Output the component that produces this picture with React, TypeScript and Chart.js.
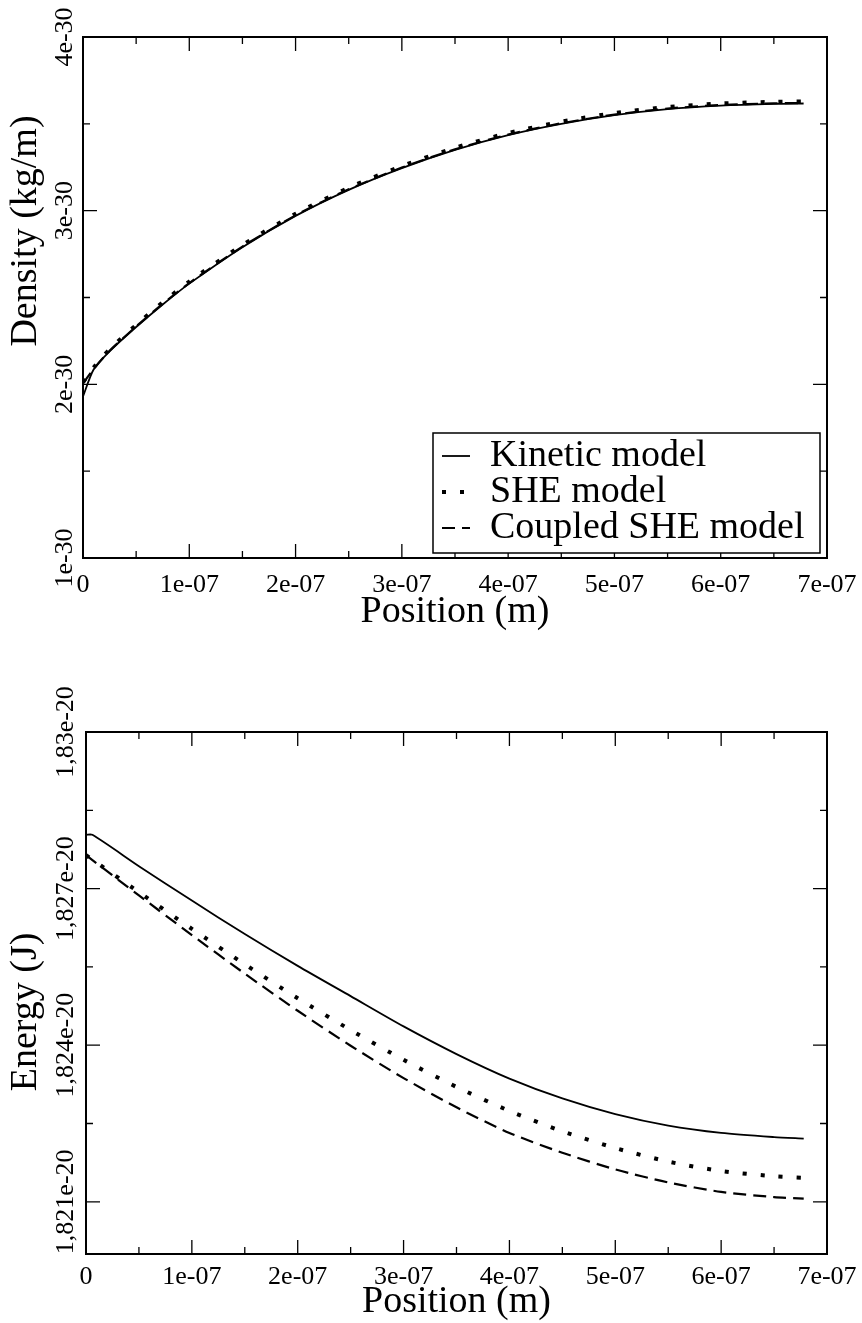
import React, { useEffect, useRef } from 'react';
import { Chart, registerables } from 'chart.js';

Chart.register(...registerables);

const FONT = '"Liberation Serif", "Times New Roman", Times, serif';

// ---------- shared axis ----------
const xTickValues = [0, 1e-7, 2e-7, 3e-7, 4e-7, 5e-7, 6e-7, 7e-7];
const xTickLabels = ['0', '1e-07', '2e-07', '3e-07', '4e-07', '5e-07', '6e-07', '7e-07'];

const seriesLabels = ['Kinetic model', 'SHE model', 'Coupled SHE model'];

// ---------- density (top) ----------
const densityTickValues = [1e-30, 2e-30, 3e-30, 4e-30];
const densityTickLabels = ['1e-30', '2e-30', '3e-30', '4e-30'];

const densityX = [0, 1.0e-8, 2.5e-8, 5.0e-8, 7.5e-8, 1.0e-7, 1.5e-7, 2.0e-7, 2.5e-7, 3.0e-7, 3.5e-7, 4.0e-7, 4.5e-7, 5.0e-7, 5.5e-7, 6.0e-7, 6.5e-7, 6.78e-7];
const densityKinetic = [1.93e-30, 2.085e-30, 2.19e-30, 2.33e-30, 2.46e-30, 2.58e-30, 2.79e-30, 2.97e-30, 3.12e-30, 3.245e-30, 3.35e-30, 3.435e-30, 3.5e-30, 3.55e-30, 3.585e-30, 3.605e-30, 3.615e-30, 3.617e-30];
const densitySHE = [2.012e-30, 2.097e-30, 2.202e-30, 2.342e-30, 2.472e-30, 2.592e-30, 2.802e-30, 2.982e-30, 3.132e-30, 3.257e-30, 3.362e-30, 3.447e-30, 3.512e-30, 3.562e-30, 3.597e-30, 3.617e-30, 3.627e-30, 3.629e-30];
const densityCoupled = [2.005e-30, 2.088e-30, 2.193e-30, 2.333e-30, 2.463e-30, 2.583e-30, 2.793e-30, 2.973e-30, 3.123e-30, 3.248e-30, 3.353e-30, 3.438e-30, 3.503e-30, 3.553e-30, 3.588e-30, 3.608e-30, 3.618e-30, 3.62e-30];

// ---------- energy (bottom) ----------
const energyTickValues = [1.821e-20, 1.824e-20, 1.827e-20, 1.83e-20];
const energyTickLabels = ['1,821e-20', '1,824e-20', '1,827e-20', '1,83e-20'];

const energyKineticX = [0, 6e-9, 5e-8, 1e-7, 1.5e-7, 2e-7, 2.5e-7, 3e-7, 3.5e-7, 4e-7, 4.5e-7, 5e-7, 5.5e-7, 6e-7, 6.5e-7, 6.78e-7];
const energyKinetic = [1.82803e-20, 1.82803e-20, 1.82743e-20, 1.82677e-20, 1.82613e-20, 1.82552e-20, 1.82494e-20, 1.82436e-20, 1.82383e-20, 1.82336e-20, 1.82298e-20, 1.82268e-20, 1.82246e-20, 1.82232e-20, 1.82224e-20, 1.82221e-20];
const energyX = [0, 5e-8, 1e-7, 1.5e-7, 2e-7, 2.5e-7, 3e-7, 3.5e-7, 4e-7, 4.5e-7, 5e-7, 5.5e-7, 6e-7, 6.5e-7, 6.78e-7];
const energySHE = [1.82764e-20, 1.82693e-20, 1.82623e-20, 1.82555e-20, 1.8249e-20, 1.82429e-20, 1.82372e-20, 1.8232e-20, 1.82274e-20, 1.82235e-20, 1.82203e-20, 1.82177e-20, 1.82159e-20, 1.82149e-20, 1.82146e-20];
const energyCoupled = [1.82764e-20, 1.82687e-20, 1.82611e-20, 1.82537e-20, 1.82466e-20, 1.82399e-20, 1.82337e-20, 1.82281e-20, 1.82232e-20, 1.82194e-20, 1.82162e-20, 1.82137e-20, 1.82119e-20, 1.82109e-20, 1.82106e-20];

// ---------- styles ----------
const lineStyles = [
  { borderWidth: 1.8, borderDash: [] as number[] },
  { borderWidth: 4, borderDash: [4, 14] },
  { borderWidth: 2.2, borderDash: [13, 7] },
];

const toPoints = (xs: number[], ys: number[]) => xs.map((x, i) => ({ x, y: ys[i] }));

const makeDataset = (i: number, xs: number[], ys: number[]) => ({
  label: seriesLabels[i],
  data: toPoints(xs, ys),
  borderColor: '#000',
  backgroundColor: '#000',
  pointRadius: 0,
  pointHoverRadius: 0,
  fill: false,
  borderCapStyle: 'butt' as const,
  cubicInterpolationMode: 'default' as const,
  tension: 0.25,
  ...lineStyles[i],
});

const midpoints = (v: number[]) => v.slice(1).map((b, i) => (v[i] + b) / 2);

function measureWidest(labels: string[], font: string) {
  const ctx = document.createElement('canvas').getContext('2d')!;
  ctx.font = font;
  return Math.max(...labels.map((l) => ctx.measureText(l).width));
}

const frameTicksPlugin = {
  id: 'frameTicks',
  afterDraw(chart: any) {
    const { ctx, chartArea: a } = chart;
    const xs = chart.scales.x;
    const ys = chart.scales.y;
    ctx.save();
    ctx.strokeStyle = '#000';
    ctx.lineWidth = 1.3;
    ctx.beginPath();
    xs.ticks.forEach((t: any) => {
      const p = xs.getPixelForValue(t.value);
      const len = t.label ? 14 : 7;
      ctx.moveTo(p, a.bottom);
      ctx.lineTo(p, a.bottom - len);
      ctx.moveTo(p, a.top);
      ctx.lineTo(p, a.top + len);
    });
    ys.ticks.forEach((t: any) => {
      const p = ys.getPixelForValue(t.value);
      const len = t.label ? 14 : 7;
      ctx.moveTo(a.left, p);
      ctx.lineTo(a.left + len, p);
      ctx.moveTo(a.right, p);
      ctx.lineTo(a.right - len, p);
    });
    ctx.stroke();
    ctx.lineWidth = 2;
    ctx.strokeRect(a.left, a.top, a.right - a.left, a.bottom - a.top);
    ctx.restore();
  },
};

const boxLegendPlugin = {
  id: 'boxLegend',
  afterDraw(chart: any, _args: any, opts: any) {
    if (!opts || !opts.display) return;
    const { ctx, chartArea: a } = chart;
    const x0 = a.right - opts.rightInset - opts.width;
    const y0 = a.bottom - opts.bottomInset - opts.height;
    ctx.save();
    ctx.fillStyle = '#fff';
    ctx.fillRect(x0, y0, opts.width, opts.height);
    ctx.strokeStyle = '#000';
    ctx.lineWidth = 1.5;
    ctx.strokeRect(x0, y0, opts.width, opts.height);
    chart.data.datasets.forEach((ds: any, i: number) => {
      const cy = y0 + opts.firstRow + i * opts.rowGap;
      ctx.setLineDash(ds.borderDash || []);
      ctx.lineWidth = ds.borderWidth;
      ctx.lineCap = 'butt';
      ctx.strokeStyle = '#000';
      ctx.beginPath();
      ctx.moveTo(x0 + opts.sampleStart, cy);
      ctx.lineTo(x0 + opts.sampleEnd, cy);
      ctx.stroke();
      ctx.setLineDash([]);
      ctx.fillStyle = '#000';
      ctx.font = `${opts.fontSize}px ${FONT}`;
      ctx.textBaseline = 'middle';
      ctx.textAlign = 'left';
      ctx.fillText(ds.label, x0 + opts.textStart, cy);
    });
    ctx.restore();
  },
};

type Spec = {
  datasets: any[];
  yMin: number;
  yMax: number;
  yTickValues: number[];
  yTickLabels: string[];
  yTitle: string;
  canvasHeight: number;
  area: { left: number; top: number; right: number; bottom: number };
  xLabelOffset: number;
  xTitleY: number;
  yLabelCenterX: number;
  yTitleX: number;
  legend: boolean;
};

const W = 862;
const TICK_SIZE = 26;
const TITLE_SIZE = 38;

function labelFor(values: number[], labels: string[], v: number) {
  const span = values[values.length - 1] - values[0];
  const i = values.findIndex((m) => Math.abs(m - v) < span * 1e-6);
  return i >= 0 ? labels[i] : '';
}

function createChart(canvas: HTMLCanvasElement, s: Spec) {
  const H = s.canvasHeight;
  const { left, top, right, bottom } = s.area;
  const tickFont = { family: FONT, size: TICK_SIZE, lineHeight: 1 };
  const titleFont = { family: FONT, size: TITLE_SIZE, lineHeight: 1 };
  const widest = measureWidest(s.yTickLabels, `${TICK_SIZE}px ${FONT}`);
  const yTickPad = left - s.yLabelCenterX - widest / 2;
  const xAll = [...xTickValues, ...midpoints(xTickValues)].sort((a, b) => a - b);
  const yAll = [...s.yTickValues, ...midpoints(s.yTickValues)].sort((a, b) => a - b);

  return new Chart(canvas, {
    type: 'line',
    data: { datasets: s.datasets },
    options: {
      responsive: false,
      maintainAspectRatio: false,
      animation: false,
      devicePixelRatio: 1,
      events: [],
      layout: { padding: { left: 0, top, right: W - right, bottom: 0 } },
      plugins: {
        legend: { display: false },
        tooltip: { enabled: false },
        boxLegend: {
          display: s.legend,
          width: 387,
          height: 120,
          rightInset: 7,
          bottomInset: 5,
          firstRow: 23,
          rowGap: 36,
          sampleStart: 9,
          sampleEnd: 37,
          textStart: 57,
          fontSize: 38,
        },
      } as any,
      scales: {
        x: {
          type: 'linear',
          min: 0,
          max: 7e-7,
          grid: { display: false, drawTicks: false, tickLength: 0 },
          border: { display: false },
          afterBuildTicks: (sc: any) => {
            sc.ticks = xAll.map((v) => ({ value: v }));
          },
          afterFit: (sc: any) => {
            sc.height = H - bottom;
            sc.paddingLeft = 0;
            sc.paddingRight = 0;
          },
          ticks: {
            autoSkip: false,
            maxRotation: 0,
            minRotation: 0,
            padding: s.xLabelOffset - TICK_SIZE / 2,
            font: tickFont,
            color: '#000',
            callback: (v: any) => labelFor(xTickValues, xTickLabels, Number(v)),
          },
          title: {
            display: true,
            text: 'Position (m)',
            font: titleFont,
            color: '#000',
            padding: { top: 0, bottom: H - TITLE_SIZE / 2 - s.xTitleY },
          },
        },
        y: {
          type: 'linear',
          min: s.yMin,
          max: s.yMax,
          grid: { display: false, drawTicks: false, tickLength: 0 },
          border: { display: false },
          afterBuildTicks: (sc: any) => {
            sc.ticks = yAll.map((v) => ({ value: v }));
          },
          afterFit: (sc: any) => {
            sc.width = left;
            sc.paddingTop = 0;
            sc.paddingBottom = 0;
          },
          ticks: {
            autoSkip: false,
            minRotation: 90,
            maxRotation: 90,
            crossAlign: 'center',
            padding: yTickPad,
            font: tickFont,
            color: '#000',
            callback: (v: any) => labelFor(s.yTickValues, s.yTickLabels, Number(v)),
          },
          title: {
            display: true,
            text: s.yTitle,
            font: titleFont,
            color: '#000',
            padding: { top: s.yTitleX - TITLE_SIZE / 2, bottom: 0 },
          },
        },
      } as any,
    },
    plugins: [frameTicksPlugin, boxLegendPlugin],
  });
}

export default function App() {
  const topRef = useRef<HTMLCanvasElement>(null);
  const botRef = useRef<HTMLCanvasElement>(null);

  useEffect(() => {
    const top = createChart(topRef.current!, {
      datasets: [
        makeDataset(0, densityX, densityKinetic),
        makeDataset(1, densityX, densitySHE),
        makeDataset(2, densityX, densityCoupled),
      ],
      yMin: 1e-30,
      yMax: 4e-30,
      yTickValues: densityTickValues,
      yTickLabels: densityTickLabels,
      yTitle: '              Density (kg/m)',
      canvasHeight: 660,
      area: { left: 83, top: 37, right: 827, bottom: 558 },
      xLabelOffset: 27,
      xTitleY: 612,
      yLabelCenterX: 65,
      yTitleX: 26,
      legend: true,
    });
    const bottom = createChart(botRef.current!, {
      datasets: [
        makeDataset(0, energyKineticX, energyKinetic),
        makeDataset(1, energyX, energySHE),
        makeDataset(2, energyX, energyCoupled),
      ],
      yMin: 1.82e-20,
      yMax: 1.83e-20,
      yTickValues: energyTickValues,
      yTickLabels: energyTickLabels,
      yTitle: 'Energy (J)    ',
      canvasHeight: 663,
      area: { left: 86, top: 72, right: 827, bottom: 594 },
      xLabelOffset: 23,
      xTitleY: 642,
      yLabelCenterX: 66,
      yTitleX: 26,
      legend: false,
    });
    return () => {
      top.destroy();
      bottom.destroy();
    };
  }, []);

  return (
    <div style={{ position: 'absolute', left: 0, top: 0, width: 862, height: 1323, background: '#fff' }}>
      <canvas
        ref={topRef}
        width={862}
        height={660}
        style={{ position: 'absolute', left: 0, top: 0, width: 862, height: 660 }}
      />
      <canvas
        ref={botRef}
        width={862}
        height={663}
        style={{ position: 'absolute', left: 0, top: 660, width: 862, height: 663 }}
      />
    </div>
  );
}
